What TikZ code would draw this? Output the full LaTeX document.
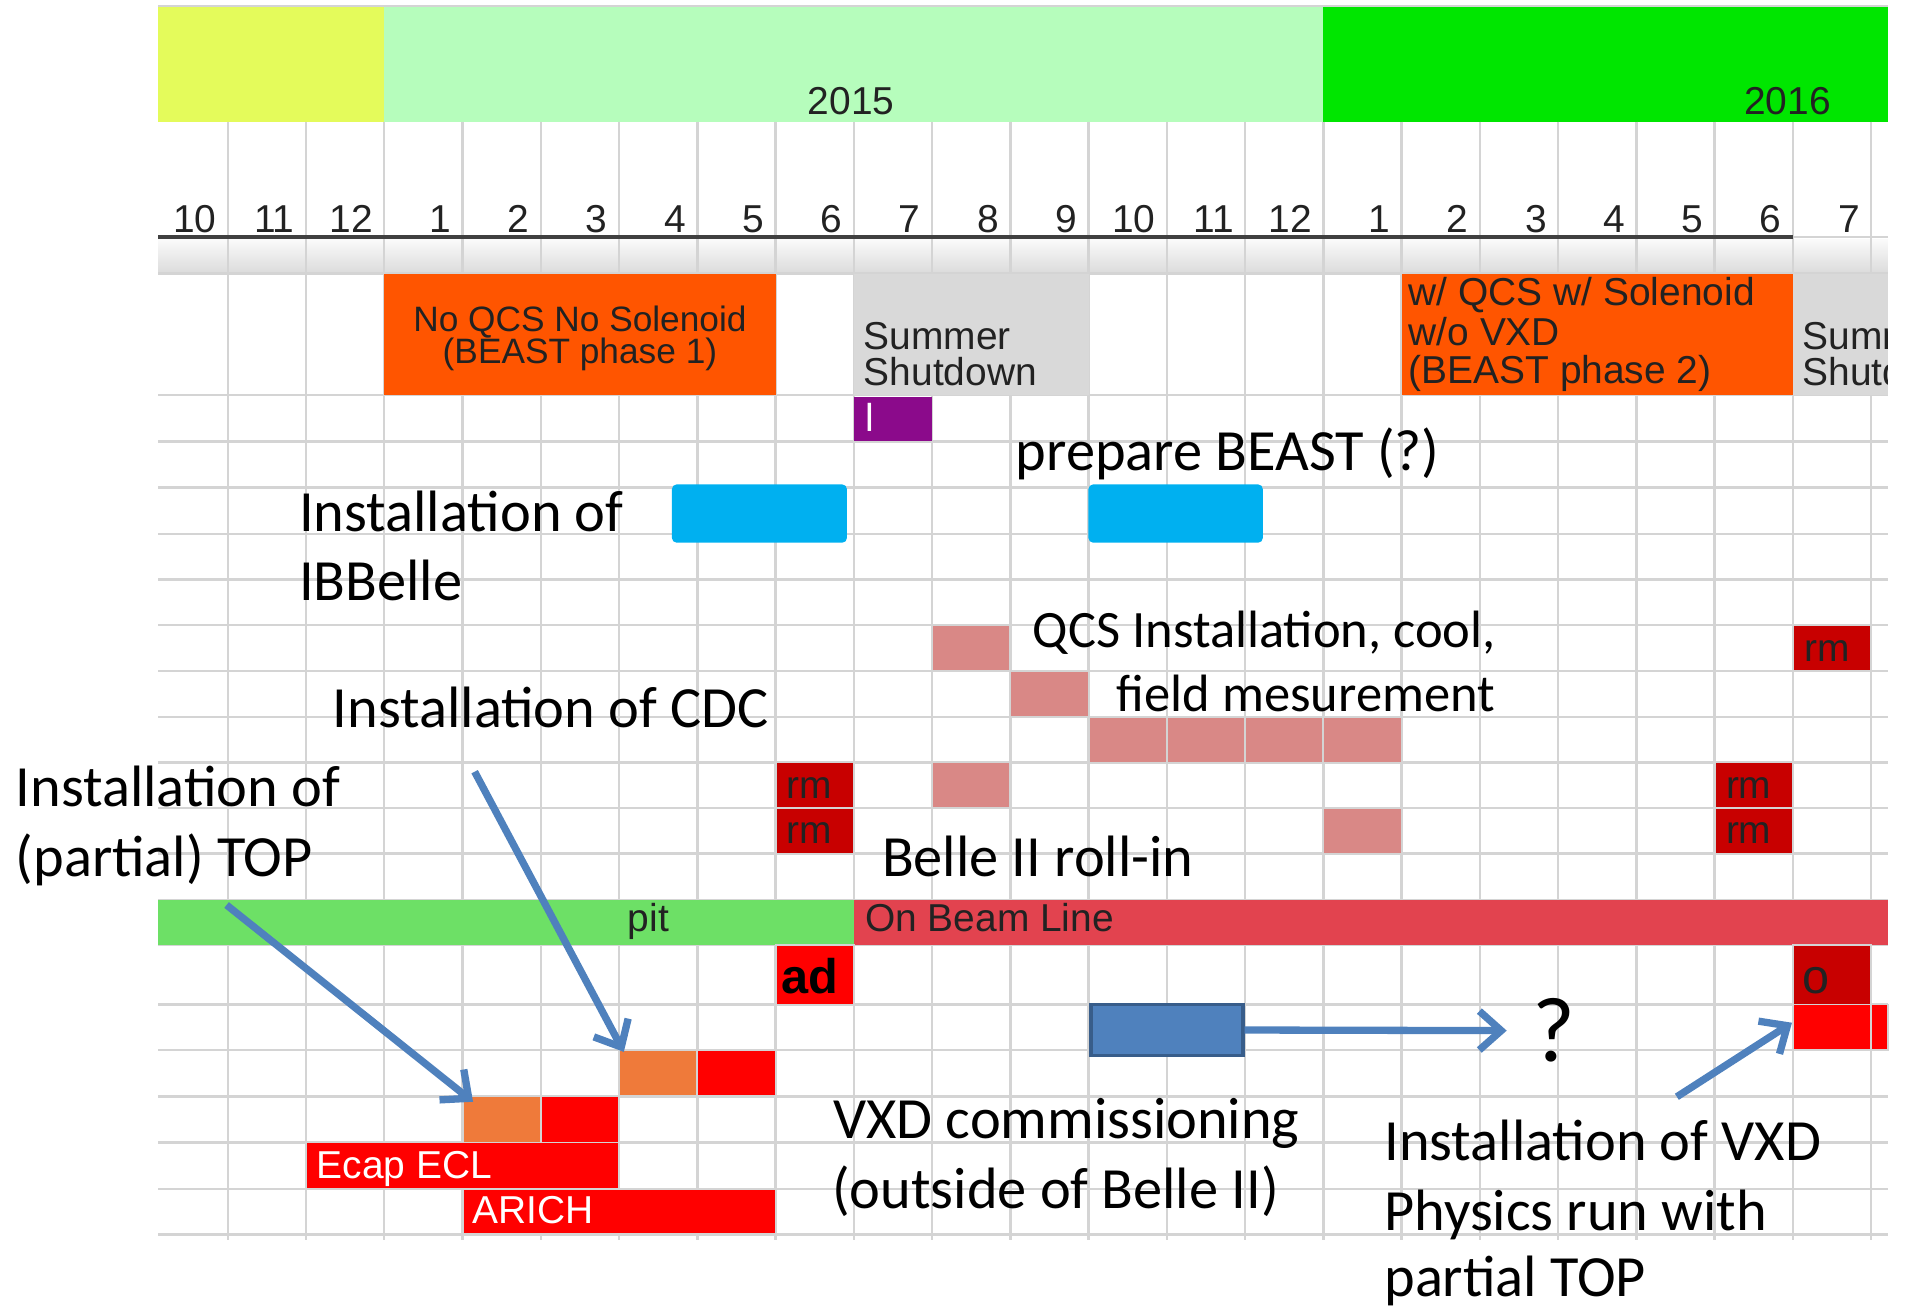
\documentclass[tikz,border=0pt]{standalone}
\usepackage{fontspec}
\setmainfont{Carlito}
\newfontfamily\chartfont{Liberation Sans}
\usetikzlibrary{arrows.meta,fit}
\definecolor{yearyellow}{HTML}{E4FB5B}
\definecolor{yearlight}{HTML}{B6FDBC}
\definecolor{yeargreen}{HTML}{00E600}
\definecolor{phaseorange}{HTML}{FF5500}
\definecolor{shutgray}{HTML}{D9D9D9}
\definecolor{purplecell}{HTML}{8B0A8B}
\definecolor{cyanbar}{HTML}{00B0F0}
\definecolor{pinkcell}{HTML}{D98886}
\definecolor{rmred}{HTML}{C80000}
\definecolor{brightred}{HTML}{FF0000}
\definecolor{orangecell}{HTML}{EF7A3A}
\definecolor{pitgreen}{HTML}{6DE066}
\definecolor{beamred}{HTML}{E2434F}
\definecolor{arrowblue}{HTML}{4F81BD}
\definecolor{vxdborder}{HTML}{385D8A}
\definecolor{gridgray}{HTML}{D4D4D4}
\definecolor{chartink}{HTML}{222222}
\newcommand\colx[1]{(122.95+64.35*(#1))}
\begin{document}
\begin{tikzpicture}[x=0.5pt,y=-0.5pt,
  cell/.style={inner sep=0pt,outer sep=0pt,draw=none},
  gcell/.style={cell,draw=gridgray,line width=0.8pt},
  gridline/.style={draw=gridgray,line width=1pt},
  bigtext/.style={font=\fontsize{24pt}{28pt}\selectfont,anchor=base west,inner sep=0pt,text=black},
  midtext/.style={bigtext,font=\fontsize{21.6pt}{26pt}\selectfont},
  charttext/.style={font=\chartfont\fontsize{16pt}{16pt}\selectfont,inner sep=0pt,anchor=base west,text=chartink},
  phasetext/.style={font=\chartfont\fontsize{14.5pt}{14.5pt}\selectfont,inner sep=0pt,anchor=base,text=chartink},
  monthtext/.style={font=\chartfont\fontsize{16pt}{16pt}\selectfont,inner sep=0pt,anchor=base east,text=chartink},
  bluearrow/.style={draw=arrowblue,line width=3pt,-{Straight Barb[length=9pt,width=16pt]}},
]
\useasboundingbox (0,0) rectangle (1569,1077);

% year band
\node[cell,fill=yearyellow,fit={(130,5.5) ({\colx{3}},100)}] (y2014) {};
\node[cell,fill=yearlight,fit={({\colx{3}},5.5) ({\colx{15}},100)}] (y2015) {};
\node[cell,fill=yeargreen,fit={({\colx{15}},5.5) (1552.5,100)}] (y2016) {};
\draw[gridline] (130,5) -- (1552.5,5);
\node[charttext,anchor=base] (t2015) at (700,94) {2015};
\node[charttext,anchor=base] (t2016) at (1470,94) {2016};

% header band
\shade[top color=white!96!gray,bottom color=gray!28] (130,197) rectangle (1552.5,224.5);

% grid
\foreach \yy in {225,325,363,401,439,476.5,514,552,589.5,627,664.5,702,740,777,826,863.5,901.5,939.5,977.5,1015}
  \draw[gridline] (130,\yy) -- (1552.5,\yy);
\foreach \i in {1,...,22}
  \draw[gridline] ({\colx{\i}},100) -- ({\colx{\i}},1020);
\draw[draw=black!75,line width=1.5pt] (130,195) -- ({\colx{21}},195);
\draw[gridline] ({\colx{21}},195) -- (1552.5,195);

% months
\foreach \i/\m in {0/10,1/11,2/12,3/1,4/2,5/3,6/4,7/5,8/6,9/7,10/8,11/9,12/10,13/11,14/12,15/1,16/2,17/3,18/4,19/5,20/6,21/7}
  \node[monthtext] (m\i) at ({\colx{\i+1}-9},191) {\m};

% phase row
\node[cell,fill=phaseorange,fit={({\colx{3}},225) ({\colx{8}},325)}] (phase1) {};
\node[phasetext] (phase1a) at (476.9,273) {No QCS No Solenoid};
\node[phasetext] (phase1b) at (476.9,299) {(BEAST phase 1)};
\node[cell,fill=shutgray,fit={({\colx{9}},225) ({\colx{12}},325)}] (shut1) {};
\node[charttext] (shut1a) at (710,287) {Summer};
\node[charttext] (shut1b) at (710,317) {Shutdown};
\node[cell,fill=phaseorange,fit={({\colx{16}},225) ({\colx{21}},325)}] (phase2) {};
\node[charttext] (phase2a) at (1158,251) {w/ QCS w/ Solenoid};
\node[charttext] (phase2b) at (1158,284.5) {w/o VXD};
\node[charttext] (phase2c) at (1158,315) {(BEAST phase 2)};
\node[cell,fill=shutgray,fit={({\colx{21}},225) (1552.5,325)}] (shut2) {};
\begin{scope}
\clip ({\colx{21}},225) rectangle (1552.5,325);
\node[charttext] (shut2a) at (1482,287) {Summer};
\node[charttext] (shut2b) at (1482,317) {Shutdown};
\end{scope}

% purple
\node[cell,fill=purplecell,fit={({\colx{9}},326.5) ({\colx{10}},363)}] (lcell) {};
\node[charttext,text=white] (ltext) at (711,355) {l};

% cyan bars
\node[cell,fill=cyanbar,rounded corners=2pt,fit={(552.5,398.3) (696.5,446.3)}] (ibbar) {};
\node[cell,fill=cyanbar,rounded corners=2pt,fit={(895,398.3) (1038.5,446.3)}] (beastbar) {};

% pink QCS cells
\node[gcell,fill=pinkcell,fit={({\colx{10}},514) ({\colx{11}},552)}] (pk1) {};
\node[gcell,fill=pinkcell,fit={({\colx{11}},552) ({\colx{12}},589.5)}] (pk2) {};
\node[gcell,fill=pinkcell,fit={({\colx{12}},589.5) ({\colx{13}},627)}] (pk3) {};
\node[gcell,fill=pinkcell,fit={({\colx{13}},589.5) ({\colx{14}},627)}] (pk4) {};
\node[gcell,fill=pinkcell,fit={({\colx{14}},589.5) ({\colx{15}},627)}] (pk5) {};
\node[gcell,fill=pinkcell,fit={({\colx{15}},589.5) ({\colx{16}},627)}] (pk6) {};
\node[gcell,fill=pinkcell,fit={({\colx{10}},627) ({\colx{11}},664.5)}] (pk7) {};
\node[gcell,fill=pinkcell,fit={({\colx{15}},664.5) ({\colx{16}},702)}] (pk8) {};

% rm cells
\node[gcell,fill=rmred,fit={({\colx{8}},627) ({\colx{9}},664.5)}] (rm1) {};
\node[gcell,fill=rmred,fit={({\colx{8}},664.5) ({\colx{9}},702)}] (rm2) {};
\node[gcell,fill=rmred,fit={({\colx{20}},627) ({\colx{21}},664.5)}] (rm3) {};
\node[gcell,fill=rmred,fit={({\colx{20}},664.5) ({\colx{21}},702)}] (rm4) {};
\node[gcell,fill=rmred,fit={({\colx{21}},514) ({\colx{22}},552)}] (rm5) {};
\node[charttext] (rm1t) at ({\colx{8}+9},656.5) {rm};
\node[charttext] (rm2t) at ({\colx{8}+9},693.5) {rm};
\node[charttext] (rm3t) at ({\colx{20}+9},656.5) {rm};
\node[charttext] (rm4t) at ({\colx{20}+9},693.5) {rm};
\node[charttext] (rm5t) at ({\colx{21}+9},544) {rm};

% location bands
\node[cell,fill=pitgreen,fit={(130,740) ({\colx{9}},777)}] (pit) {};
\node[charttext] (pitt) at (516,766) {pit};
\node[cell,fill=beamred,fit={({\colx{9}},740) (1552.5,777)}] (beam) {};
\node[charttext] (beamt) at (711,766) {On Beam Line};

% lower cells
\node[gcell,fill=brightred,fit={({\colx{8}},777) ({\colx{9}},826)}] (adcell) {};
\node[charttext,font=\chartfont\bfseries\fontsize{20pt}{20pt}\selectfont,text=black] (adt) at (642,817) {ad};
\node[gcell,fill=rmred,fit={({\colx{21}},777) ({\colx{22}},826)}] (ocell) {};
\node[charttext,font=\chartfont\fontsize{20pt}{20pt}\selectfont] (ot) at (1482,817) {o};
\node[gcell,fill=brightred,fit={({\colx{21}},826) ({\colx{22}},863.5)}] (vxdred1) {};
\node[gcell,fill=brightred,fit={({\colx{22}},826) (1552.5,863.5)}] (vxdred2) {};

\node[gcell,fill=orangecell,fit={({\colx{6}},863.5) ({\colx{7}},901.5)}] (cdcor) {};
\node[gcell,fill=brightred,fit={({\colx{7}},863.5) ({\colx{8}},901.5)}] (cdcred) {};
\node[gcell,fill=orangecell,fit={({\colx{4}},901.5) ({\colx{5}},939.5)}] (topor) {};
\node[gcell,fill=brightred,fit={({\colx{5}},901.5) ({\colx{6}},939.5)}] (topred) {};
\node[gcell,fill=brightred,fit={({\colx{2}},939.5) ({\colx{6}},977.5)}] (ecap) {};
\node[charttext,text=white] (ecapt) at (260,969) {Ecap ECL};
\node[gcell,fill=brightred,fit={({\colx{4}},977.5) ({\colx{8}},1015)}] (arich) {};
\node[charttext,text=white] (aricht) at (388,1006) {ARICH};

% VXD box
\node[fill=arrowblue,draw=vxdborder,line width=1.5pt,inner sep=0pt,fit={(897,826) (1022,868)}] (vxd) {};

% annotations
\node[bigtext] (tPrep) at (835,387) {prepare BEAST (?)};
\node[bigtext] (tIBa) at (245.7,437) {Installation of};
\node[bigtext] (tIBb) at (245.7,494) {IBBelle};
\node[midtext] (tQCSa) at (849,532.6) {QCS Installation, cool,};
\node[midtext] (tQCSb) at (918,585.3) {field mesurement};
\node[bigtext] (tCDC) at (273.4,598.4) {Installation of CDC};
\node[bigtext] (tTOPa) at (12.6,662.8) {Installation of};
\node[bigtext] (tTOPb) at (12.6,721) {(partial) TOP};
\node[bigtext] (tRoll) at (725,721) {Belle II roll-in};
\node[bigtext] (tVXDa) at (684.9,936) {VXD commissioning};
\node[bigtext] (tVXDb) at (684,994) {(outside of Belle II)};
\node[bigtext] (tInsa) at (1138,954.5) {Installation of VXD};
\node[bigtext] (tInsb) at (1138,1012) {Physics run with};
\node[bigtext] (tInsc) at (1138,1066) {partial TOP};
\node[bigtext,font=\fontsize{38pt}{40pt}\selectfont] (qmark) at (1260,873) {?};

% arrows
\coordinate (topA) at (186.3,744.2);
\coordinate (topB) at (389,906);
\coordinate (cdcA) at (390.3,634.6);
\coordinate (cdcB) at (513,865);
\coordinate (vxdB) at (1239,847.5);
\coordinate (insA) at (1378.9,901.9);
\coordinate (insB) at (1473.6,841);
\draw[bluearrow] (topA) -- (topB);
\draw[bluearrow] (cdcA) -- (cdcB);
\draw[bluearrow] (vxd.east) -- (vxdB);
\draw[bluearrow] (insA) -- (insB);
\end{tikzpicture}
\end{document}
